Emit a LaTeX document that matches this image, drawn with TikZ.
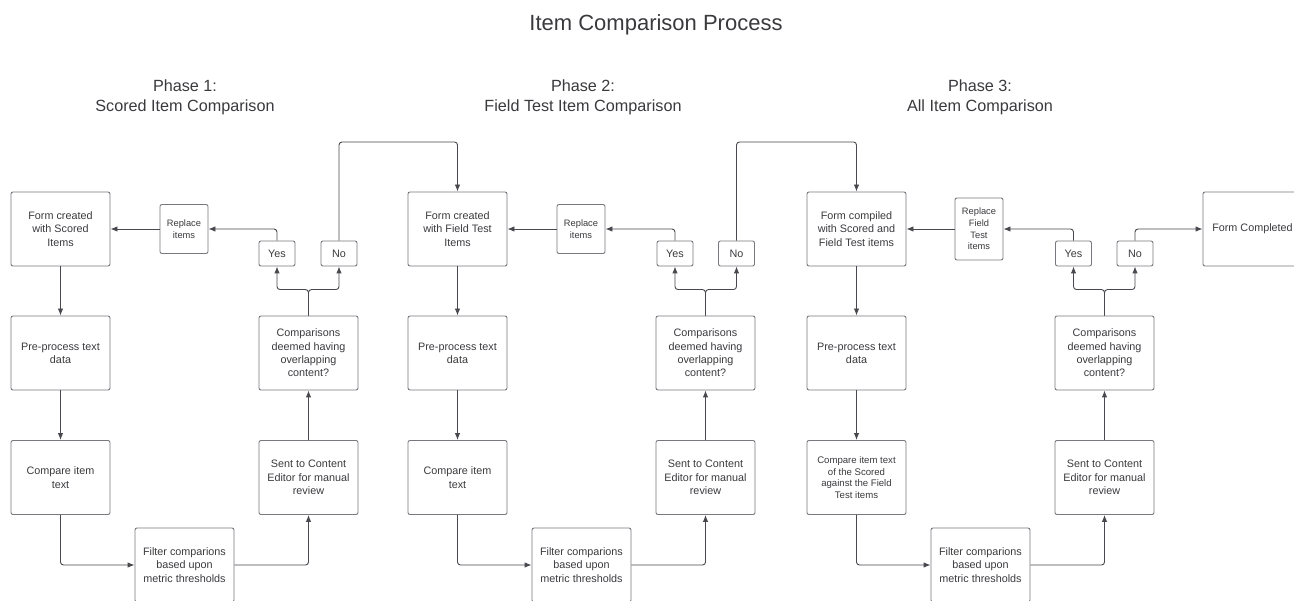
\documentclass[tikz,border=0pt]{standalone}
\usepackage{fontspec}
\setmainfont{Liberation Sans}
\usetikzlibrary{arrows.meta,positioning}
\definecolor{linegray}{RGB}{72,72,78}
\definecolor{boxgray}{RGB}{120,120,126}
\definecolor{textgray}{RGB}{58,58,62}

\begin{document}
\begin{tikzpicture}[x=1pt,y=-1pt,>={Latex[length=7pt,width=5.5pt]},
    every node/.style={text=textgray},
    stepbox/.style={draw=boxgray,line width=.9pt,rounded corners=2pt,
        minimum width=99pt,minimum height=74pt,align=center,inner sep=0pt,
        font=\fontsize{10.8}{13.3}\selectfont},
    swapbox/.style={stepbox,minimum width=48pt,minimum height=49pt,
        font=\fontsize{9.3}{11.7}\selectfont},
    answer/.style={stepbox,minimum width=36pt,minimum height=25pt},
    phase/.style={align=center,font=\fontsize{16.2}{20.5}\selectfont},
    flow/.style={draw=linegray,line width=.9pt,rounded corners=3pt,->}]

\clip (0,0) rectangle (1294,601);

%% titles
    \node[font=\fontsize{22}{24}\selectfont,anchor=base] (title) at (656,31) {Item Comparison Process};
    \node[phase] (ph1) at (185,97.5) {Phase 1:\\Scored Item Comparison};
    \node[phase] (ph2) at (583,97.5) {Phase 2:\\Field Test Item Comparison};
    \node[phase] (ph3) at (980,97.5) {Phase 3:\\All Item Comparison};

%% phase 1
    \node[stepbox] (form1) at (60.5,229) {Form created\\with Scored\\Items};
    \node[stepbox] (prep1) at (60.5,353) {Pre-process text\\data};
    \node[stepbox] (cmp1) at (60.5,477.5) {Compare item\\text};
    \node[stepbox] (filt1) at (184.5,565) {Filter comparions\\based upon\\metric thresholds};
    \node[stepbox] (sent1) at (308.5,477.5) {Sent to Content\\Editor for manual\\review};
    \node[stepbox] (ovl1) at (308.5,353) {Comparisons\\deemed having\\overlapping\\content?};
    \node[answer] (yes1) at (277,253.5) {Yes};
    \node[answer] (no1) at (339,253.5) {No};
    \node[swapbox] (repl1) at (184,229) {Replace\\items};

%% phase 2
    \node[stepbox] (form2) at (457.5,229) {Form created\\with Field Test\\Items};
    \node[stepbox] (prep2) at (457.5,353) {Pre-process text\\data};
    \node[stepbox] (cmp2) at (457.5,477.5) {Compare item\\text};
    \node[stepbox] (filt2) at (581.5,565) {Filter comparions\\based upon\\metric thresholds};
    \node[stepbox] (sent2) at (705.5,477.5) {Sent to Content\\Editor for manual\\review};
    \node[stepbox] (ovl2) at (705.5,353) {Comparisons\\deemed having\\overlapping\\content?};
    \node[answer] (yes2) at (675,253.5) {Yes};
    \node[answer] (no2) at (736.5,253.5) {No};
    \node[swapbox] (repl2) at (581,229) {Replace\\items};

%% phase 3
    \node[stepbox] (form3) at (856.5,229) {Form compiled\\with Scored and\\Field Test items};
    \node[stepbox] (prep3) at (856.5,353) {Pre-process text\\data};
    \node[stepbox,font=\fontsize{9.6}{11.7}\selectfont] (cmp3) at (856.5,477.5)
        {Compare item text\\of the Scored\\against the Field\\Test items};
    \node[stepbox] (filt3) at (980.5,565) {Filter comparions\\based upon\\metric thresholds};
    \node[stepbox] (sent3) at (1104.5,477.5) {Sent to Content\\Editor for manual\\review};
    \node[stepbox] (ovl3) at (1104.5,353) {Comparisons\\deemed having\\overlapping\\content?};
    \node[answer] (yes3) at (1073.5,253.5) {Yes};
    \node[answer] (no3) at (1135,253.5) {No};
    \node[swapbox,minimum height=62pt] (repl3) at (979,229) {Replace\\Field\\Test\\items};
    \node[stepbox] (done) at (1252.5,229) {Form Completed};

%% connectors
    \foreach \p in {1,2,3}{
        \draw[flow] (form\p) -- (prep\p);
        \draw[flow] (prep\p) -- (cmp\p);
        \draw[flow] (cmp\p.south) |- (filt\p.west);
        \draw[flow] (filt\p.east) -| (sent\p.south);
        \draw[flow] (sent\p) -- (ovl\p);
        \draw[flow] (ovl\p.north) -- ++(0,-26) -| (yes\p.south);
        \draw[flow] (ovl\p.north) -- ++(0,-26) -| (no\p.south);
        \draw[flow] (yes\p.north) |- (repl\p.east);
        \draw[flow] (repl\p) -- (form\p);
    }

    \coordinate (top) at (0,142);
    \draw[flow] (no1.north) -- (no1.north |- top) -| (form2.north);
    \draw[flow] (no2.north) -- (no2.north |- top) -| (form3.north);
    \draw[flow] (no3.north) |- (done.west);

\end{tikzpicture}
\end{document}
